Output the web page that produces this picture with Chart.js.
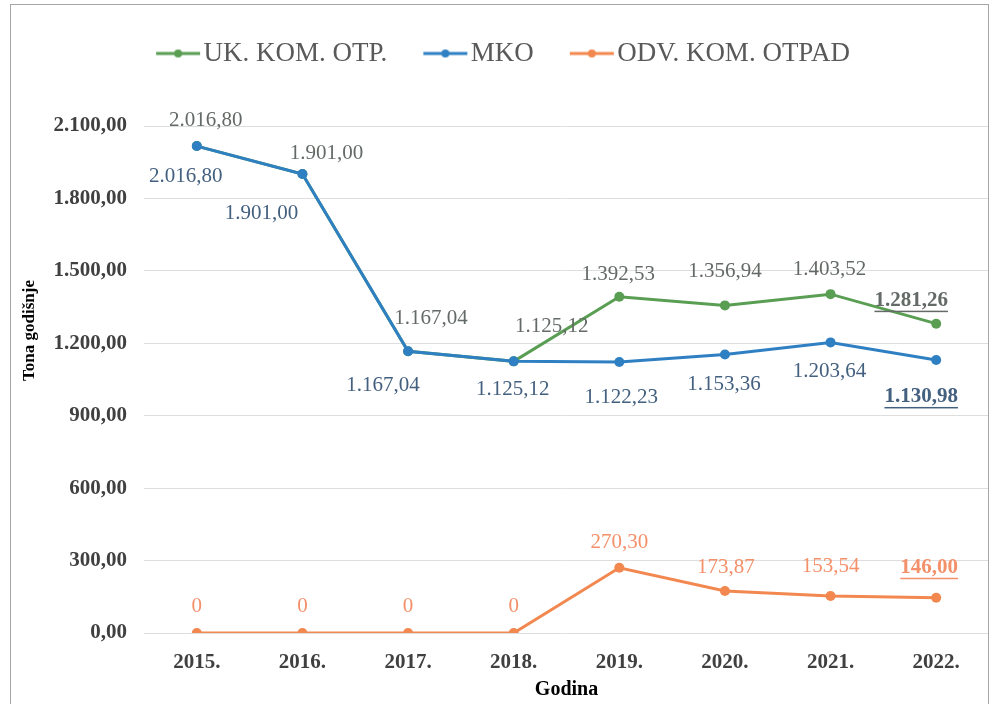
<!DOCTYPE html>
<html>
<head>
<meta charset="utf-8">
<script src="https://cdn.jsdelivr.net/npm/chart.js@4/dist/chart.umd.min.js"></script>
<style>
  html, body { margin:0; padding:0; background:#fff; overflow:hidden; }
  #wrap { position:relative; width:994px; height:704px; }
  #frame { position:absolute; left:10px; top:4px; width:977px; height:720px; border:1px solid #a6a6a6; pointer-events:none; }
  canvas { position:absolute; left:0; top:0; }
</style>
</head>
<body>
<div id="wrap">
  <canvas id="chart" width="994" height="704"></canvas>
  <div id="frame"></div>
</div>
<script>
// data
const years = ['2015.', '2016.', '2017.', '2018.', '2019.', '2020.', '2021.', '2022.'];
const ukKomOtp = [2016.80, 1901.00, 1167.04, 1125.12, 1392.53, 1356.94, 1403.52, 1281.26];
const mko = [2016.80, 1901.00, 1167.04, 1125.12, 1122.23, 1153.36, 1203.64, 1130.98];
const odvKomOtpad = [0, 0, 0, 0, 270.30, 173.87, 153.54, 146.00];
const yTicks = [0, 300, 600, 900, 1200, 1500, 1800, 2100];
const yTitle = 'Tona godišnje';

const GREEN = '#5a9e54', BLUE = '#2f80c3', ORANGE = '#f2884f';
const SERIF = '"Liberation Serif", "Times New Roman", serif';

function fmt(v){
  if(v === 0) return '0';
  const parts = v.toFixed(2).split('.');
  const int = parts[0].replace(/\B(?=(\d{3})+(?!\d))/g, '.');
  return int + ',' + parts[1];
}
function fmtTick(v){
  const parts = Number(v).toFixed(2).split('.');
  return parts[0].replace(/\B(?=(\d{3})+(?!\d))/g, '.') + ',' + parts[1];
}

// label placement per dataset (offset of text centre from the point)
const labelCfg = [
  { color:'#646a66', off:[[9,-26],[24,-21],[23,-33],[38,-35],[-1,-22],[0,-34],[-1,-25],[-25,-23]] },
  { color:'#44607f', off:[[-11,30],[-41,39],[-25,34],[-1,28],[2,35],[-1,30],[-1,29],[-15,37]] },
  { color:'#f4906a', off:[[0,-27],[0,-27],[0,-27],[0,-27],[0,-25],[1,-24],[0,-29],[-7,-30]] }
];

const valueLabels = {
  id:'valueLabels',
  afterDatasetsDraw(chart){
    const ctx = chart.ctx;
    ctx.save();
    ctx.textAlign = 'center';
    ctx.textBaseline = 'middle';
    chart.data.datasets.forEach((ds, di) =>{
      const meta = chart.getDatasetMeta(di);
      const cfg = labelCfg[di];
      meta.data.forEach((pt, i) =>{
        const last = i === ds.data.length - 1;
        const txt = fmt(ds.data[i]);
        const x = pt.x + cfg.off[i][0], y = pt.y + cfg.off[i][1];
        ctx.font = (last ? 'bold ' : '') + '21px ' + SERIF;
        ctx.fillStyle = cfg.color;
        ctx.fillText(txt, x, y);
        if(last){
          const w = ctx.measureText(txt).width;
          ctx.fillRect(x - w/2, y + 10, w, 1.5);
        }
      });
    });
    ctx.restore();
  }
};

// y axis title sits above the middle of the axis in the original
const yAxisTitle = {
  id:'yAxisTitle',
  afterDraw(chart){
    const ctx = chart.ctx;
    const s = chart.scales.y;
    ctx.save();
    ctx.translate(s.left + 14, s.getPixelForValue(1050) - 49);
    ctx.rotate(-Math.PI/2);
    ctx.font = 'bold 17px ' + SERIF;
    ctx.fillStyle = '#000';
    ctx.textAlign = 'center';
    ctx.textBaseline = 'middle';
    ctx.fillText(yTitle, 0, 0);
    ctx.restore();
  }
};

// extra room under the legend
const legendGap = {
  id:'legendGap',
  afterInit(chart){
    const fit = chart.legend.fit;
    chart.legend.fit = function(){ fit.call(this); this.height += 49; };
  }
};

// legend marker: line with a dot, drawn so it ends close to the text
function legendIcon(color){
  const c = document.createElement('canvas');
  c.width = 88; c.height = 12;
  const g = c.getContext('2d');
  g.strokeStyle = color; g.lineWidth = 3;
  g.beginPath(); g.moveTo(27,6); g.lineTo(71,6); g.stroke();
  g.fillStyle = color;
  g.beginPath(); g.arc(49,6,4,0,Math.PI*2); g.fill();
  return c;
}
const icons = [legendIcon(GREEN), legendIcon(BLUE), legendIcon(ORANGE)];

const ctx = document.getElementById('chart').getContext('2d');
new Chart(ctx, {
  type:'line',
  data:{
    labels: years,
    datasets:[
      {label:'UK. KOM. OTP.', data:ukKomOtp, borderColor:GREEN, backgroundColor:GREEN, order:1},
      {label:'MKO', data:mko, borderColor:BLUE, backgroundColor:BLUE, order:0},
      {label:'ODV. KOM. OTPAD', data:odvKomOtpad, borderColor:ORANGE, backgroundColor:ORANGE, order:0}
    ]
  },
  options:{
    responsive:false,
    animation:false,
    events:[],
    elements:{
      line:{borderWidth:3, tension:0},
      point:{radius:5, borderWidth:0}
    },
    layout:{padding:{top:4, right:4, left:16, bottom:4}},
    plugins:{
      tooltip:{enabled:false},
      legend:{
        position:'top',
        labels:{
          usePointStyle:true,
          pointStyleWidth:34,
          font:{family:SERIF, size:27},
          color:'#595959',
          padding:36,
          sort:(a,b) => a.datasetIndex - b.datasetIndex,
          generateLabels(chart){
            const items = Chart.defaults.plugins.legend.labels.generateLabels(chart);
            items.forEach(it => { it.pointStyle = icons[it.datasetIndex]; });
            return items;
          }
        }
      }
    },
    scales:{
      x:{
        offset:true,
        afterFit(scale){ scale.height = 67; scale.paddingLeft = 0; scale.paddingRight = 0; },
        grid:{display:false, drawTicks:false},
        border:{display:false},
        ticks:{color:'#404040', font:{family:SERIF, size:21, weight:'bold'}, padding:17},
        title:{display:true, text:'Godina', color:'#000', font:{family:SERIF, size:20, weight:'bold', lineHeight:1}, padding:{top:5, bottom:0}}
      },
      y:{
        min:0, max:2100,
        afterBuildTicks(scale){ scale.ticks = yTicks.map(v => ({value:v})); },
        afterFit(scale){ scale.width = 128; },
        grid:{color:'#dedede', lineWidth:1, drawTicks:false},
        border:{display:false},
        ticks:{color:'#404040', font:{family:SERIF, size:21, weight:'bold'}, padding:17, callback:v => fmtTick(v)},
        title:{display:false, text:yTitle}
      }
    }
  },
  plugins:[valueLabels, legendGap, yAxisTitle]
});
</script>
</body>
</html>
